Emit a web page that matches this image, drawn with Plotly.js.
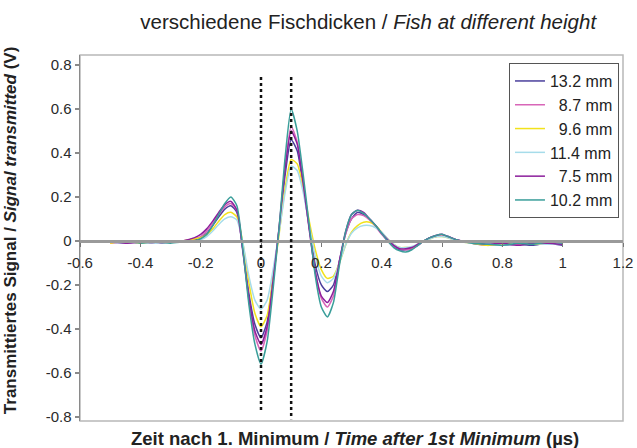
<!DOCTYPE html>
<html>
<head>
<meta charset="utf-8">
<script src="https://cdn.plot.ly/plotly-3.0.1.min.js"></script>
<style>html,body{margin:0;padding:0;background:#fff;}#chart{width:637px;height:448px;}</style>
</head>
<body>
<div id="chart"></div>
<script>
// Time after 1st minimum (µs)
const time = [-0.50,-0.45,-0.40,-0.35,-0.30,-0.26,-0.22,-0.20,-0.18,-0.16,-0.14,-0.12,-0.10,-0.08,-0.06,-0.04,-0.02,0.00,0.02,0.04,0.06,0.08,0.10,0.12,0.14,0.16,0.18,0.20,0.22,0.24,0.26,0.28,0.30,0.32,0.34,0.36,0.38,0.40,0.42,0.44,0.46,0.48,0.50,0.52,0.54,0.56,0.58,0.60,0.62,0.65,0.70,0.75,0.80,0.85,0.90,0.95,1.00];

const seriesNames = ["13.2 mm", "\u20078.7 mm", "\u20079.6 mm", "11.4 mm", "\u20077.5 mm", "10.2 mm"];
const seriesColors = ["#4a3f9c", "#d866b8", "#f2e21c", "#a6dcea", "#8c1f9c", "#3a9e9a"];

const sig_13_2 = [-0.005,-0.01,-0.005,-0.01,-0.005,0.0,0.005,0.015,0.035,0.07,0.11,0.145,0.16,0.13,-0.04,-0.24,-0.38,-0.44,-0.37,-0.17,0.05,0.30,0.46,0.41,0.25,0.06,-0.11,-0.20,-0.23,-0.20,-0.09,0.03,0.10,0.13,0.12,0.10,0.07,0.035,0.0,-0.025,-0.04,-0.04,-0.035,-0.02,0.0,0.015,0.02,0.025,0.02,0.005,-0.01,-0.015,-0.02,-0.015,-0.02,-0.01,-0.02];
const sig_8_7 = [-0.01,-0.005,0.0,-0.01,0.0,0.0,0.01,0.02,0.045,0.08,0.12,0.155,0.17,0.14,-0.04,-0.27,-0.43,-0.50,-0.41,-0.19,0.06,0.34,0.52,0.45,0.27,0.06,-0.14,-0.26,-0.30,-0.25,-0.10,0.03,0.10,0.12,0.115,0.095,0.065,0.03,0.0,-0.025,-0.035,-0.04,-0.035,-0.02,0.0,0.015,0.025,0.025,0.02,0.005,-0.01,-0.02,-0.01,-0.015,-0.01,-0.015,-0.005];
const sig_9_6 = [-0.01,0.0,-0.01,0.0,-0.005,0.0,0.01,0.015,0.03,0.055,0.09,0.12,0.13,0.11,-0.01,-0.19,-0.33,-0.39,-0.34,-0.17,0.03,0.24,0.37,0.35,0.24,0.09,-0.04,-0.13,-0.17,-0.16,-0.10,-0.02,0.04,0.07,0.085,0.085,0.07,0.04,0.01,-0.015,-0.03,-0.03,-0.03,-0.015,0.0,0.01,0.02,0.02,0.015,0.0,-0.01,-0.02,-0.015,-0.01,-0.015,-0.01,-0.01];
const sig_11_4 = [-0.005,-0.01,0.0,-0.01,0.0,-0.005,0.0,0.005,0.02,0.045,0.075,0.10,0.11,0.095,-0.01,-0.16,-0.27,-0.31,-0.27,-0.13,0.04,0.22,0.34,0.32,0.22,0.07,-0.07,-0.16,-0.19,-0.17,-0.10,-0.02,0.035,0.06,0.07,0.07,0.06,0.04,0.01,-0.015,-0.03,-0.03,-0.025,-0.015,0.0,0.01,0.02,0.02,0.015,0.0,-0.01,-0.01,-0.02,-0.01,-0.01,-0.015,-0.01];
const sig_7_5 = [0.0,-0.01,-0.005,0.0,-0.005,0.0,0.015,0.03,0.055,0.09,0.13,0.165,0.18,0.14,-0.05,-0.26,-0.41,-0.47,-0.39,-0.18,0.06,0.33,0.50,0.44,0.26,0.05,-0.14,-0.25,-0.28,-0.23,-0.09,0.04,0.12,0.14,0.13,0.10,0.07,0.035,0.005,-0.02,-0.035,-0.035,-0.03,-0.015,0.0,0.015,0.025,0.03,0.02,0.005,-0.005,-0.015,-0.01,-0.02,-0.01,-0.01,-0.015];
const sig_10_2 = [-0.005,0.0,-0.01,-0.005,-0.01,-0.005,0.0,0.01,0.03,0.07,0.12,0.17,0.20,0.16,-0.04,-0.29,-0.47,-0.56,-0.46,-0.22,0.06,0.38,0.60,0.50,0.30,0.07,-0.16,-0.30,-0.345,-0.28,-0.11,0.04,0.12,0.14,0.125,0.10,0.07,0.035,0.0,-0.03,-0.045,-0.05,-0.04,-0.02,0.0,0.015,0.025,0.03,0.02,0.005,-0.01,-0.015,-0.02,-0.01,-0.015,-0.005,-0.01];

const seriesValues = [sig_13_2, sig_8_7, sig_9_6, sig_11_4, sig_7_5, sig_10_2];

// reference time markers (dotted vertical lines)
const markerTimes = [0.0, 0.1];

const xTickVals = [-0.6,-0.4,-0.2,0,0.2,0.4,0.6,0.8,1,1.2];
const xTickText = ["-0.6","-0.4","-0.2","0","0.2","0.4","0.6","0.8","1","1.2"];
const yTickVals = [-0.8,-0.6,-0.4,-0.2,0,0.2,0.4,0.6,0.8];
const yTickText = ["-0.8","-0.6","-0.4","-0.2","0","0.2","0.4","0.6","0.8"];

const FONT = "'Liberation Sans', Arial, sans-serif";

const traces = seriesValues.map((vals, i) => ({
  x: time, y: vals, type: 'scatter', mode: 'lines',
  name: seriesNames[i], legendgroup: 'g' + i,
  line: {color: seriesColors[i], width: 1.5, shape: 'spline', smoothing: 0.6}
}));

const yMin = -0.818, yMax = 0.845;

const shapes = [
  {type: 'rect', xref: 'paper', yref: 'paper', x0: 0, x1: 1, y0: 0, y1: 1,
   line: {color: '#b8b8b8', width: 1.5}, layer: 'below'}
].concat(markerTimes.map((t, i) => ({
  type: 'line', xref: 'x', yref: 'y', x0: t, x1: t,
  y0: 0.745, y1: i === 0 ? -0.78 : -0.81,
  line: {color: '#111', width: 2.5, dash: 'dot'}
})));

const layout = {
  width: 637, height: 448,
  margin: {l: 80, r: 14, t: 55, b: 27},
  paper_bgcolor: '#fff', plot_bgcolor: '#fff',
  font: {family: FONT, size: 14, color: '#333'},
  title: {text: 'verschiedene Fischdicken / <i>Fish at different height</i>',
          font: {family: FONT, size: 20.5, color: '#222'},
          x: 0.578, xanchor: 'center', y: 0.951, yanchor: 'middle'},
  xaxis: {
    range: [-0.6, 1.2], anchor: 'free', position: (0 - yMin) / (yMax - yMin),
    tickvals: xTickVals, ticktext: xTickText,
    showgrid: false, zeroline: false,
    showline: true, linecolor: '#9a9a9a', linewidth: 3,
    ticks: 'outside', ticklen: 4, tickcolor: '#777', tickwidth: 1,
    ticklabelstandoff: 3,
    tickfont: {family: FONT, size: 15, color: '#2a2a2a'}
  },
  yaxis: {
    range: [yMin, yMax],
    tickvals: yTickVals, ticktext: yTickText,
    showgrid: false, zeroline: false,
    showline: true, linecolor: '#8a8a8a', linewidth: 1.5,
    ticks: 'outside', ticklen: 4, tickcolor: '#8a8a8a', tickwidth: 1.5,
    tickfont: {family: FONT, size: 15, color: '#2a2a2a'}
  },
  legend: {
    x: 0.790, y: 0.978, xanchor: 'left', yanchor: 'top',
    bgcolor: '#fff', bordercolor: '#555', borderwidth: 1,
    font: {family: FONT, size: 16, color: '#222'},
    tracegroupgap: 0, itemwidth: 30
  },
  shapes: shapes,
  annotations: [
    {text: '<b>Zeit nach 1. Minimum / <i>Time after 1st Minimum</i> (µs)</b>',
     xref: 'paper', yref: 'paper', x: 0.506, y: 0, yshift: -17,
     xanchor: 'center', yanchor: 'middle', showarrow: false,
     font: {family: FONT, size: 18.5, color: '#222'}},
    {text: '<b>Transmittiertes Signal / <i>Signal transmitted</i> (V)</b>',
     xref: 'paper', yref: 'paper', x: -0.128, y: 0.52, textangle: -90,
     xanchor: 'center', yanchor: 'middle', showarrow: false,
     font: {family: FONT, size: 17, color: '#222'}}
  ]
};

Plotly.newPlot('chart', traces, layout, {displayModeBar: false, staticPlot: true});
</script>
</body>
</html>
